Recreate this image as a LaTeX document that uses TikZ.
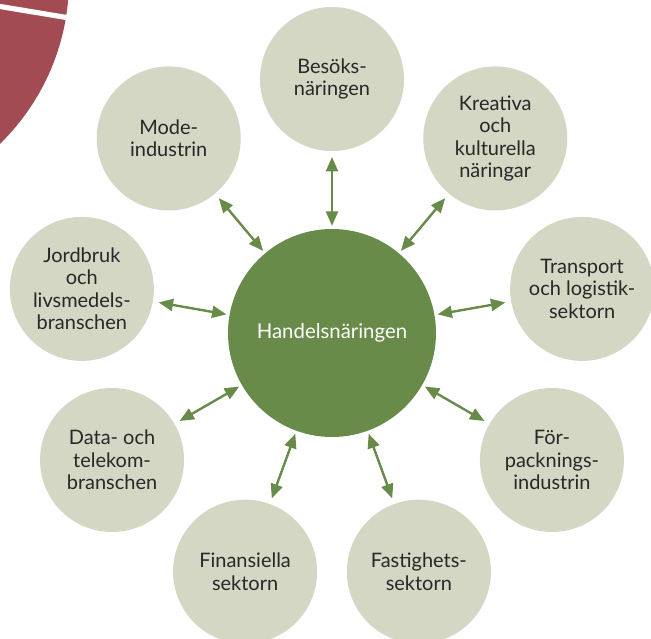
\documentclass[tikz,border=0pt]{standalone}
\usepackage{fontspec}
\setmainfont{Lato}
\usetikzlibrary{arrows.meta}

\definecolor{hubgreen}{RGB}{104,139,73}
\definecolor{sage}{RGB}{211,215,196}
\definecolor{wine}{RGB}{163,75,83}
\definecolor{ink}{RGB}{40,40,40}

\tikzset{
  hub/.style={circle,fill=hubgreen,minimum size=5.2cm,inner sep=0pt,outer sep=0pt,
    text=white,font=\fontsize{14.5}{16}\selectfont},
  sector/.style={circle,fill=sage,minimum size=3.6cm,inner sep=0pt,outer sep=0pt,
    text=ink,align=center,font=\fontsize{14.2}{16}\selectfont},
  link/.style={draw=hubgreen,line width=1.7pt,
    {Triangle[length=3.6mm,width=3mm]}-{Triangle[length=3.6mm,width=3mm]},
    shorten <=0.08cm,shorten >=0.15cm}
}

\begin{document}
\begin{tikzpicture}
  \useasboundingbox (-8.3,-7.625) rectangle (7.975,8.325);

  % piece of the pie chart from the previous page
  \begin{scope}
    \clip (-8.3,-7.625) rectangle (7.975,8.325);
    \fill[wine] (-12.3,8.825) circle (5.725);
    \draw[white,line width=0.13cm] (-12.3,8.825) -- ++(-9.4:7);
  \end{scope}

  \node (hub) at (0,0) [hub] {Handelsnäringen};

  \node (besok) at (90:6.35) [sector] {Besöks-\\näringen};
  \node (kreativ) at (50:6.35) [sector] {Kreativa\\och\\kulturella\\näringar};
  \node (transport) at (10:6.35) [sector] {Transport\\och logistik-\\sektorn};
  \node (forpack) at (-30:6.35) [sector] {För-\\packnings-\\industrin};
  \node (fastighet) at (-70:6.35) [sector] {Fastighets-\\sektorn};
  \node (finans) at (-110:6.35) [sector] {Finansiella\\sektorn};
  \node (data) at (-150:6.35) [sector] {Data- och\\telekom-\\branschen};
  \node (jordbruk) at (170:6.35) [sector] {Jordbruk\\och\\livsmedels-\\branschen};
  \node (mode) at (130:6.35) [sector] {Mode-\\industrin};

  \draw[link] (hub) -- (besok);
  \draw[link] (hub) -- (kreativ);
  \draw[link] (hub) -- (transport);
  \draw[link] (hub) -- (forpack);
  \draw[link] (hub) -- (fastighet);
  \draw[link] (hub) -- (finans);
  \draw[link] (hub) -- (data);
  \draw[link] (hub) -- (jordbruk);
  \draw[link] (hub) -- (mode);
\end{tikzpicture}
\end{document}
